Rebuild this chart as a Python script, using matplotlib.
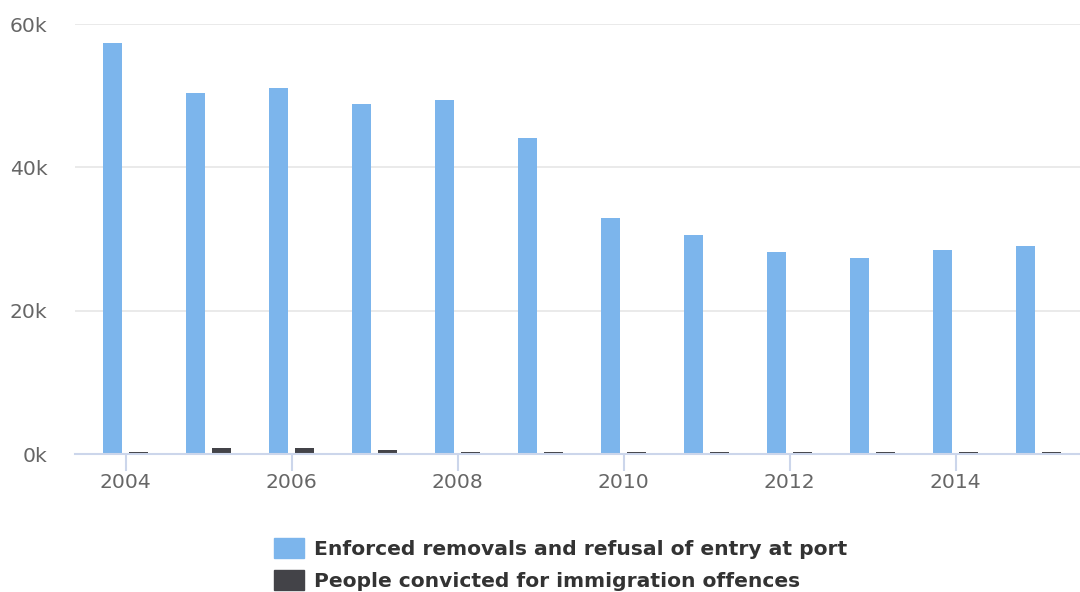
import matplotlib.pyplot as plt
import numpy as np
from matplotlib.patches import Patch
from matplotlib.ticker import FuncFormatter

years = [2004, 2005, 2006, 2007, 2008, 2009, 2010, 2011, 2012, 2013, 2014, 2015]
removals = [57350, 50400, 51100, 48800, 49400, 44100, 32900, 30600, 28200, 27300, 28500, 29000]
convicted = [300, 840, 840, 560, 300, 300, 300, 300, 300, 300, 300, 300]
series_names = ["Enforced removals and refusal of entry at port",
                "People convicted for immigration offences"]

blue = '#7cb5ec'
dark = '#434348'
fs = 14.6

fig = plt.figure(figsize=(10.8, 5.92), dpi=100)
ax = fig.add_axes([75 / 1080, 138 / 592, 1005 / 1080, 430 / 592])

x = np.array(years)
w = 0.23
ax.bar(x - 0.157, removals, width=w, color=blue, zorder=3)
ax.bar(x + 0.157, convicted, width=w, color=dark, zorder=3)

ax.set_xlim(2003.39, 2015.5)
ax.set_ylim(0, 60000)
ax.set_yticks([0, 20000, 40000, 60000])
ax.yaxis.set_major_formatter(FuncFormatter(lambda v, p: '%dk' % (v / 1000)))
ax.set_xticks(range(2004, 2016, 2))

ax.grid(axis='y', color='#e6e6e6', linewidth=1.2, zorder=0)
for s in ['top', 'right', 'left']:
    ax.spines[s].set_visible(False)
ax.spines['bottom'].set_color('#ccd6eb')
ax.spines['bottom'].set_linewidth(1.5)
ax.spines['bottom'].set_zorder(4)

ax.tick_params(axis='y', length=0, pad=20, labelsize=fs, labelcolor='#666666')
ax.tick_params(axis='x', length=12, width=1.5, color='#ccd6eb', pad=2,
               labelsize=fs, labelcolor='#666666')

handles = [Patch(color=blue), Patch(color=dark)]
fig.legend(handles, series_names, loc='upper left',
           bbox_to_anchor=(255.7 / 1080, 1 - 520 / 592),
           frameon=False, handlelength=1.48, handleheight=1.13, handletextpad=0.49,
           labelspacing=0.56, prop={'weight': 'bold', 'size': fs}, labelcolor='#333333')

fig.savefig('out.png', dpi=100)
